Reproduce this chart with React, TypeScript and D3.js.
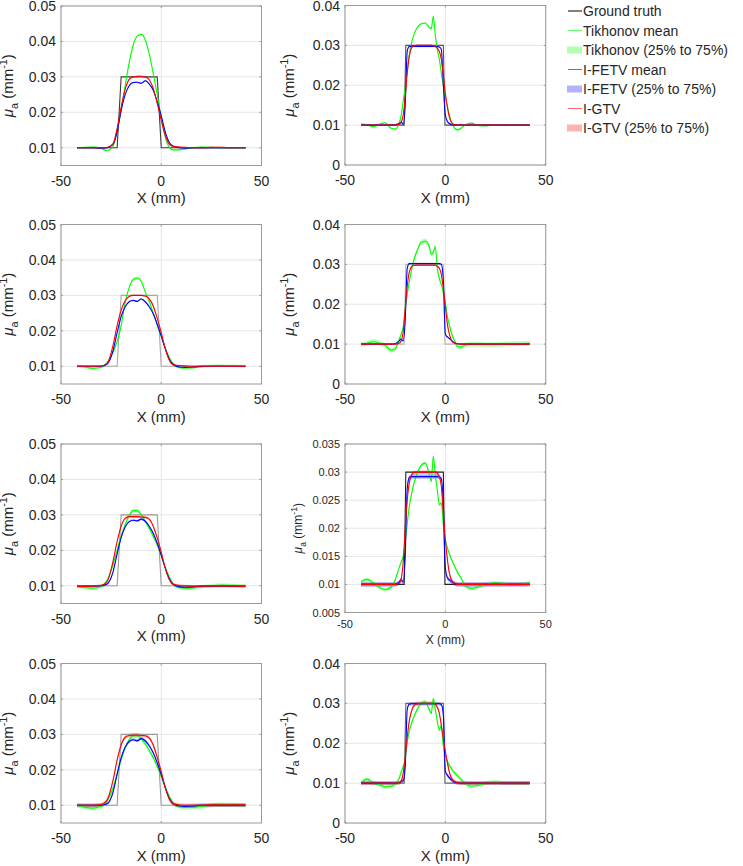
import React from "react";
import * as d3 from "d3";

// ---------- sample positions (mm) ----------
const X_L = [-42, -38, -34, -30, -27, -24, -22, -20, -18, -16, -14, -12, -10, -8, -6, -4, -2, 0, 2, 4, 6, 9, 12, 16, 20, 25, 30, 36, 42];
const X_R = [-42, -39, -36, -33, -30, -27, -25, -23, -22, -21, -20, -19, -18, -17, -16, -14, -12, -10, -8, -7, -6, -5, -4, -3, -2, -1, 0, 1, 2, 3, 4, 6, 8, 10, 13, 16, 20, 25, 30, 35, 42];

// ---------- ground truth ----------
const GT_L_X = [-42, -22, -20, -2, 0, 42];
const GT_R_X = [-42, -20.5, -19.7, -1.0, -0.2, 42];
const GT_Y = [0.01, 0.01, 0.03, 0.03, 0.01, 0.01];

// ---------- left column ----------
const TIK_L1 = [0.0100, 0.0101, 0.0102, 0.0098, 0.0092, 0.0105, 0.0150, 0.0205, 0.0275, 0.0340, 0.0390, 0.0415, 0.0420, 0.0405, 0.0365, 0.0310, 0.0250, 0.0185, 0.0130, 0.0102, 0.0094, 0.0094, 0.0097, 0.0100, 0.0102, 0.0101, 0.0100, 0.0100, 0.0100];
const GTV_L1 = [0.0100, 0.0100, 0.0100, 0.0100, 0.0101, 0.0112, 0.0155, 0.0215, 0.0265, 0.0293, 0.0300, 0.0302, 0.0302, 0.0300, 0.0292, 0.0268, 0.0225, 0.0178, 0.0135, 0.0110, 0.0104, 0.0102, 0.0101, 0.0100, 0.0100, 0.0101, 0.0101, 0.0100, 0.0100];
const FETV_L1 = [0.0100, 0.0100, 0.0100, 0.0099, 0.0100, 0.0110, 0.0145, 0.0205, 0.0250, 0.0275, 0.0284, 0.0285, 0.0282, 0.0289, 0.0280, 0.0262, 0.0230, 0.0190, 0.0145, 0.0115, 0.0104, 0.0100, 0.0099, 0.0100, 0.0100, 0.0100, 0.0100, 0.0100, 0.0100];

const TIK_L2 = [0.0100, 0.0098, 0.0094, 0.0097, 0.0110, 0.0140, 0.0170, 0.0215, 0.0280, 0.0322, 0.0345, 0.0349, 0.0340, 0.0310, 0.0283, 0.0250, 0.0218, 0.0185, 0.0152, 0.0125, 0.0107, 0.0097, 0.0095, 0.0096, 0.0099, 0.0101, 0.0102, 0.0101, 0.0100];
const GTV_L2 = [0.0100, 0.0100, 0.0100, 0.0101, 0.0108, 0.0160, 0.0215, 0.0258, 0.0285, 0.0297, 0.0300, 0.0300, 0.0300, 0.0298, 0.0290, 0.0270, 0.0235, 0.0195, 0.0150, 0.0118, 0.0104, 0.0102, 0.0101, 0.0100, 0.0100, 0.0100, 0.0100, 0.0100, 0.0100];
const FETV_L2 = [0.0100, 0.0100, 0.0100, 0.0100, 0.0106, 0.0145, 0.0195, 0.0240, 0.0268, 0.0282, 0.0286, 0.0283, 0.0290, 0.0282, 0.0268, 0.0248, 0.0218, 0.0185, 0.0150, 0.0120, 0.0105, 0.0098, 0.0097, 0.0098, 0.0100, 0.0100, 0.0100, 0.0100, 0.0100];

const TIK_L3 = [0.0098, 0.0095, 0.0093, 0.0098, 0.0115, 0.0160, 0.0200, 0.0240, 0.0272, 0.0298, 0.0312, 0.0312, 0.0300, 0.0283, 0.0262, 0.0240, 0.0215, 0.0185, 0.0152, 0.0125, 0.0105, 0.0095, 0.0093, 0.0094, 0.0097, 0.0100, 0.0102, 0.0101, 0.0100];
const GTV_L3 = [0.0098, 0.0098, 0.0099, 0.0101, 0.0112, 0.0170, 0.0225, 0.0268, 0.0290, 0.0295, 0.0295, 0.0295, 0.0294, 0.0293, 0.0288, 0.0268, 0.0235, 0.0195, 0.0150, 0.0118, 0.0104, 0.0101, 0.0100, 0.0099, 0.0099, 0.0099, 0.0099, 0.0099, 0.0098];
const FETV_L3 = [0.0099, 0.0099, 0.0099, 0.0100, 0.0105, 0.0140, 0.0190, 0.0236, 0.0266, 0.0281, 0.0285, 0.0283, 0.0288, 0.0282, 0.0268, 0.0248, 0.0220, 0.0186, 0.0150, 0.0120, 0.0104, 0.0097, 0.0096, 0.0097, 0.0099, 0.0099, 0.0099, 0.0099, 0.0099];

const TIK_L4 = [0.0100, 0.0094, 0.0092, 0.0097, 0.0112, 0.0150, 0.0188, 0.0228, 0.0262, 0.0285, 0.0296, 0.0296, 0.0288, 0.0273, 0.0255, 0.0234, 0.0210, 0.0182, 0.0152, 0.0125, 0.0106, 0.0096, 0.0094, 0.0094, 0.0097, 0.0100, 0.0102, 0.0101, 0.0100];
const GTV_L4 = [0.0100, 0.0100, 0.0100, 0.0102, 0.0115, 0.0172, 0.0228, 0.0270, 0.0292, 0.0297, 0.0298, 0.0298, 0.0297, 0.0296, 0.0290, 0.0270, 0.0235, 0.0195, 0.0150, 0.0118, 0.0104, 0.0101, 0.0100, 0.0100, 0.0100, 0.0101, 0.0101, 0.0101, 0.0101];
const FETV_L4 = [0.0100, 0.0100, 0.0100, 0.0100, 0.0104, 0.0138, 0.0188, 0.0234, 0.0264, 0.0280, 0.0285, 0.0282, 0.0288, 0.0282, 0.0268, 0.0248, 0.0220, 0.0186, 0.0150, 0.0120, 0.0104, 0.0098, 0.0097, 0.0098, 0.0100, 0.0100, 0.0100, 0.0100, 0.0100];

// ---------- right column ----------
const TIK_R1 = [
  0.0103, 0.0101, 0.0096, 0.0102, 0.0106, 0.0092, 0.0090, 0.0105, 0.0125, 0.0160,
  0.0195, 0.0235, 0.0275, 0.0303, 0.0322, 0.0345, 0.0354, 0.0356, 0.0345, 0.0342,
  0.0373, 0.0325, 0.0290, 0.0265, 0.0230, 0.0200, 0.0170, 0.0148, 0.0125, 0.0108,
  0.0097, 0.0088, 0.0093, 0.0101, 0.0105, 0.0099, 0.0098, 0.0101, 0.0099, 0.0101,
  0.0100];
const FETV_R1 = [
  0.0100, 0.0100, 0.0100, 0.0100, 0.0100, 0.0100, 0.0101, 0.0104, 0.0108, 0.0102,
  0.0150, 0.0285, 0.0297, 0.0298, 0.0298, 0.0297, 0.0297, 0.0297, 0.0297, 0.0297,
  0.0297, 0.0297, 0.0297, 0.0296, 0.0290, 0.0200, 0.0125, 0.0110, 0.0104, 0.0101,
  0.0100, 0.0100, 0.0100, 0.0100, 0.0100, 0.0100, 0.0100, 0.0100, 0.0100, 0.0100,
  0.0100];
const GTV_R1 = [
  0.0100, 0.0100, 0.0100, 0.0100, 0.0100, 0.0100, 0.0100, 0.0102, 0.0108, 0.0125,
  0.0170, 0.0230, 0.0272, 0.0292, 0.0298, 0.0300, 0.0300, 0.0300, 0.0300, 0.0300,
  0.0299, 0.0297, 0.0293, 0.0285, 0.0265, 0.0225, 0.0180, 0.0145, 0.0120, 0.0107,
  0.0102, 0.0100, 0.0100, 0.0100, 0.0100, 0.0100, 0.0100, 0.0100, 0.0100, 0.0100,
  0.0100];

const TIK_R2 = [
  0.0099, 0.0102, 0.0106, 0.0103, 0.0097, 0.0085, 0.0088, 0.0112, 0.0125, 0.0143,
  0.0185, 0.0225, 0.0255, 0.0282, 0.0305, 0.0335, 0.0355, 0.0358, 0.0345, 0.0325,
  0.0330, 0.0345, 0.0290, 0.0265, 0.0250, 0.0228, 0.0205, 0.0170, 0.0148, 0.0128,
  0.0115, 0.0094, 0.0093, 0.0098, 0.0100, 0.0100, 0.0099, 0.0099, 0.0100, 0.0101,
  0.0102];
const FETV_R2 = [
  0.0100, 0.0100, 0.0100, 0.0100, 0.0100, 0.0100, 0.0101, 0.0108, 0.0113, 0.0108,
  0.0160, 0.0290, 0.0302, 0.0302, 0.0302, 0.0302, 0.0302, 0.0302, 0.0302, 0.0302,
  0.0302, 0.0302, 0.0302, 0.0302, 0.0300, 0.0260, 0.0125, 0.0118, 0.0114, 0.0110,
  0.0105, 0.0101, 0.0100, 0.0100, 0.0100, 0.0100, 0.0100, 0.0100, 0.0100, 0.0100,
  0.0100];
const GTV_R2 = [
  0.0100, 0.0100, 0.0100, 0.0100, 0.0100, 0.0100, 0.0100, 0.0102, 0.0108, 0.0130,
  0.0190, 0.0245, 0.0280, 0.0293, 0.0297, 0.0298, 0.0298, 0.0298, 0.0298, 0.0298,
  0.0298, 0.0298, 0.0295, 0.0290, 0.0275, 0.0240, 0.0195, 0.0150, 0.0125, 0.0110,
  0.0104, 0.0101, 0.0100, 0.0100, 0.0100, 0.0100, 0.0100, 0.0100, 0.0100, 0.0100,
  0.0100];

const TIK_R3 = [
  0.0105, 0.0109, 0.0103, 0.0095, 0.0091, 0.0095, 0.0108, 0.0130, 0.0140, 0.0150,
  0.0175, 0.0208, 0.0238, 0.0258, 0.0275, 0.0298, 0.0312, 0.0316, 0.0296, 0.0283,
  0.0328, 0.0295, 0.0268, 0.0242, 0.0245, 0.0205, 0.0180, 0.0165, 0.0155, 0.0145,
  0.0137, 0.0122, 0.0110, 0.0097, 0.0093, 0.0095, 0.0100, 0.0103, 0.0101, 0.0100,
  0.0103];
const FETV_R3 = [
  0.0100, 0.0100, 0.0100, 0.0100, 0.0100, 0.0100, 0.0100, 0.0104, 0.0108, 0.0104,
  0.0150, 0.0270, 0.0290, 0.0292, 0.0292, 0.0292, 0.0292, 0.0292, 0.0292, 0.0292,
  0.0292, 0.0292, 0.0292, 0.0291, 0.0288, 0.0240, 0.0130, 0.0112, 0.0108, 0.0105,
  0.0103, 0.0100, 0.0100, 0.0100, 0.0100, 0.0100, 0.0100, 0.0100, 0.0100, 0.0100,
  0.0100];
const GTV_R3 = [
  0.0100, 0.0100, 0.0100, 0.0100, 0.0100, 0.0100, 0.0100, 0.0102, 0.0110, 0.0140,
  0.0200, 0.0250, 0.0280, 0.0293, 0.0299, 0.0300, 0.0300, 0.0300, 0.0300, 0.0300,
  0.0300, 0.0300, 0.0298, 0.0292, 0.0275, 0.0225, 0.0180, 0.0145, 0.0120, 0.0108,
  0.0103, 0.0100, 0.0100, 0.0100, 0.0100, 0.0100, 0.0100, 0.0100, 0.0100, 0.0100,
  0.0100];

const TIK_R4 = [
  0.0100, 0.0110, 0.0101, 0.0096, 0.0091, 0.0092, 0.0098, 0.0112, 0.0128, 0.0142,
  0.0160, 0.0202, 0.0230, 0.0248, 0.0262, 0.0285, 0.0300, 0.0304, 0.0284, 0.0275,
  0.0312, 0.0285, 0.0255, 0.0233, 0.0245, 0.0192, 0.0170, 0.0155, 0.0145, 0.0137,
  0.0129, 0.0119, 0.0108, 0.0099, 0.0092, 0.0094, 0.0100, 0.0102, 0.0100, 0.0100,
  0.0100];
const FETV_R4 = [
  0.0100, 0.0100, 0.0100, 0.0100, 0.0100, 0.0100, 0.0100, 0.0101, 0.0104, 0.0106,
  0.0140, 0.0285, 0.0298, 0.0299, 0.0299, 0.0299, 0.0299, 0.0299, 0.0299, 0.0299,
  0.0299, 0.0299, 0.0299, 0.0299, 0.0297, 0.0270, 0.0130, 0.0120, 0.0113, 0.0108,
  0.0104, 0.0101, 0.0100, 0.0100, 0.0100, 0.0100, 0.0100, 0.0100, 0.0100, 0.0100,
  0.0100];
const GTV_R4 = [
  0.0100, 0.0100, 0.0100, 0.0100, 0.0100, 0.0100, 0.0100, 0.0101, 0.0105, 0.0125,
  0.0165, 0.0215, 0.0255, 0.0278, 0.0292, 0.0299, 0.0300, 0.0300, 0.0300, 0.0300,
  0.0300, 0.0298, 0.0290, 0.0275, 0.0245, 0.0210, 0.0180, 0.0152, 0.0128, 0.0113,
  0.0106, 0.0101, 0.0100, 0.0100, 0.0100, 0.0100, 0.0100, 0.0100, 0.0100, 0.0100,
  0.0100];

// half-width of the 25%–75% bands, per panel [Tikhonov, I-FETV, I-GTV]
const BAND_L1 = [0.0002, 0.0002, 0.0002];
const BAND_L2 = [0.0004, 0.0002, 0.0002];
const BAND_L3 = [0.0005, 0.0003, 0.0003];
const BAND_L4 = [0.0006, 0.0004, 0.0005];
const BAND_R1 = [0.0002, 0.0002, 0.0002];
const BAND_R2 = [0.0006, 0.0002, 0.0002];
const BAND_R3 = [0.0003, 0.0004, 0.0003];
const BAND_R4 = [0.0005, 0.0004, 0.0005];

// ---------- ticks ----------
const X_TICKS = [-50, 0, 50];
const X_TICK_LABELS = ["-50", "0", "50"];
const Y_TICKS_L = [0.01, 0.02, 0.03, 0.04, 0.05];
const Y_TICK_LABELS_L = ["0.01", "0.02", "0.03", "0.04", "0.05"];
const Y_TICKS_R = [0, 0.01, 0.02, 0.03, 0.04];
const Y_TICK_LABELS_R = ["0", "0.01", "0.02", "0.03", "0.04"];
const Y_TICKS_R3 = [0.005, 0.01, 0.015, 0.02, 0.025, 0.03, 0.035];
const Y_TICK_LABELS_R3 = ["0.005", "0.01", "0.015", "0.02", "0.025", "0.03", "0.035"];

const LEGEND_LABELS = ["Ground truth", "Tikhonov mean", "Tikhonov (25% to 75%)", "I-FETV mean", "I-FETV (25% to 75%)", "I-GTV", "I-GTV (25% to 75%)"];

const GREEN = "#00ff00";
const BLUE = "#0000ff";
const RED = "#ff0000";
const FONT = "'Liberation Sans', Arial, Helvetica, sans-serif";

const LEFT = { x0: 61, w: 200.5 };
const RIGHT = { x0: 345, w: 200.7 };
const ROW_TOPS = [6, 224.5, 444, 663.5];
const H = 159.5;

type PanelDef = {
  x0: number; w: number; top: number; h: number;
  xs: number[]; gtX: number[]; gtColor: string;
  tik: number[]; fetv: number[]; gtv: number[]; band: number[];
  yDomain: [number, number]; yTicks: number[]; yLabels: string[];
  tickFs: number; labelFs: number; xTickDy: number; xLabelDy: number; yLabelX: number;
};

const std = { tickFs: 14, labelFs: 15, xTickDy: 15, xLabelDy: 32 };

const PANELS: PanelDef[] = [
  { ...LEFT, top: ROW_TOPS[0], h: H, xs: X_L, gtX: GT_L_X, gtColor: "#3a3a3a", tik: TIK_L1, fetv: FETV_L1, gtv: GTV_L1, band: BAND_L1, yDomain: [0.005, 0.05], yTicks: Y_TICKS_L, yLabels: Y_TICK_LABELS_L, ...std, yLabelX: 13 },
  { ...RIGHT, top: ROW_TOPS[0] - 0.5, h: H, xs: X_R, gtX: GT_R_X, gtColor: "#555555", tik: TIK_R1, fetv: FETV_R1, gtv: GTV_R1, band: BAND_R1, yDomain: [0, 0.04], yTicks: Y_TICKS_R, yLabels: Y_TICK_LABELS_R, ...std, yLabelX: 294 },
  { ...LEFT, top: ROW_TOPS[1], h: H, xs: X_L, gtX: GT_L_X, gtColor: "#a8a8a8", tik: TIK_L2, fetv: FETV_L2, gtv: GTV_L2, band: BAND_L2, yDomain: [0.005, 0.05], yTicks: Y_TICKS_L, yLabels: Y_TICK_LABELS_L, ...std, yLabelX: 13 },
  { ...RIGHT, top: ROW_TOPS[1], h: H, xs: X_R, gtX: GT_R_X, gtColor: "#b8b8b8", tik: TIK_R2, fetv: FETV_R2, gtv: GTV_R2, band: BAND_R2, yDomain: [0, 0.04], yTicks: Y_TICKS_R, yLabels: Y_TICK_LABELS_R, ...std, yLabelX: 294 },
  { ...LEFT, top: ROW_TOPS[2], h: H, xs: X_L, gtX: GT_L_X, gtColor: "#9a9a9a", tik: TIK_L3, fetv: FETV_L3, gtv: GTV_L3, band: BAND_L3, yDomain: [0.005, 0.05], yTicks: Y_TICKS_L, yLabels: Y_TICK_LABELS_L, ...std, yLabelX: 13 },
  { ...RIGHT, top: ROW_TOPS[2], h: 168.5, xs: X_R, gtX: GT_R_X, gtColor: "#222222", tik: TIK_R3, fetv: FETV_R3, gtv: GTV_R3, band: BAND_R3, yDomain: [0.005, 0.035], yTicks: Y_TICKS_R3, yLabels: Y_TICK_LABELS_R3, tickFs: 11, labelFs: 12, xTickDy: 11.5, xLabelDy: 27.5, yLabelX: 302 },
  { ...LEFT, top: ROW_TOPS[3], h: H, xs: X_L, gtX: GT_L_X, gtColor: "#9a9a9a", tik: TIK_L4, fetv: FETV_L4, gtv: GTV_L4, band: BAND_L4, yDomain: [0.005, 0.05], yTicks: Y_TICKS_L, yLabels: Y_TICK_LABELS_L, ...std, yLabelX: 13 },
  { ...RIGHT, top: ROW_TOPS[3], h: H, xs: X_R, gtX: GT_R_X, gtColor: "#666666", tik: TIK_R4, fetv: FETV_R4, gtv: GTV_R4, band: BAND_R4, yDomain: [0, 0.04], yTicks: Y_TICKS_R, yLabels: Y_TICK_LABELS_R, ...std, yLabelX: 294 },
];

function YLabel({ x, y, fs }: { x: number; y: number; fs: number }) {
  const s = fs * 0.72;
  return (
    <text transform={`translate(${x},${y}) rotate(-90)`} textAnchor="middle" fontSize={fs} fill="#262626" fontFamily={FONT}>
      <tspan fontStyle="italic">μ</tspan>
      <tspan dy={fs * 0.3} fontSize={s}>a</tspan>
      <tspan dy={-fs * 0.3}> (mm</tspan>
      <tspan dy={-fs * 0.42} fontSize={s}>-1</tspan>
      <tspan dy={fs * 0.42}>)</tspan>
    </text>
  );
}

function Panel({ p, id }: { p: PanelDef; id: number }) {
  const x = d3.scaleLinear().domain([-50, 50]).range([p.x0, p.x0 + p.w]);
  const y = d3.scaleLinear().domain(p.yDomain).range([p.top + p.h, p.top]);
  const bottom = p.top + p.h;
  const right = p.x0 + p.w;
  const curve = d3.curveMonotoneX;
  const line = d3.line<number>().x((_, i) => x(p.xs[i])).y((v) => y(v)).curve(curve);
  const area = (hw: number) =>
    d3.area<number>().x((_, i) => x(p.xs[i])).y0((v) => y(v - hw)).y1((v) => y(v + hw)).curve(curve);
  const gtLine = d3.line<number>().x((_, i) => x(p.gtX[i])).y((v) => y(v));
  const clipId = `clip${id}`;
  return (
    <g>
      <defs>
        <clipPath id={clipId}>
          <rect x={p.x0} y={p.top} width={p.w} height={p.h} />
        </clipPath>
      </defs>
      <rect x={p.x0} y={p.top} width={p.w} height={p.h} fill="#ffffff" />
      {p.yTicks.map((t) => (
        <line key={"gy" + t} x1={p.x0} x2={right} y1={y(t)} y2={y(t)} stroke="#e6e6e6" strokeWidth={1} />
      ))}
      {X_TICKS.map((t) => (
        <line key={"gx" + t} x1={x(t)} x2={x(t)} y1={p.top} y2={bottom} stroke="#e6e6e6" strokeWidth={1} />
      ))}
      <g clipPath={`url(#${clipId})`}>
        <path d={area(p.band[0])(p.tik) || ""} fill={GREEN} fillOpacity={0.3} />
        <path d={area(p.band[1])(p.fetv) || ""} fill={BLUE} fillOpacity={0.3} />
        <path d={area(p.band[2])(p.gtv) || ""} fill={RED} fillOpacity={0.3} />
        <path d={gtLine(GT_Y) || ""} fill="none" stroke={p.gtColor} strokeWidth={1.1} />
        <path d={line(p.tik) || ""} fill="none" stroke={GREEN} strokeWidth={1.1} />
        <path d={line(p.fetv) || ""} fill="none" stroke={BLUE} strokeWidth={1.1} />
        <path d={line(p.gtv) || ""} fill="none" stroke={RED} strokeWidth={1.1} />
      </g>
      {p.yTicks.map((t) => (
        <g key={"ty" + t}>
          <line x1={p.x0} x2={p.x0 + 2} y1={y(t)} y2={y(t)} stroke="#9a9a9a" />
          <line x1={right} x2={right - 2} y1={y(t)} y2={y(t)} stroke="#9a9a9a" />
        </g>
      ))}
      {X_TICKS.map((t) => (
        <g key={"tx" + t}>
          <line x1={x(t)} x2={x(t)} y1={bottom} y2={bottom - 2} stroke="#9a9a9a" />
          <line x1={x(t)} x2={x(t)} y1={p.top} y2={p.top + 2} stroke="#9a9a9a" />
        </g>
      ))}
      <rect x={p.x0} y={p.top} width={p.w} height={p.h} fill="none" stroke="#9a9a9a" strokeWidth={1} />
      {p.yTicks.map((t, i) => (
        <text key={"ly" + t} x={p.x0 - 5} y={y(t)} textAnchor="end" dominantBaseline="central" fontSize={p.tickFs} fill="#262626" fontFamily={FONT}>
          {p.yLabels[i]}
        </text>
      ))}
      {X_TICKS.map((t, i) => (
        <text key={"lx" + t} x={x(t)} y={bottom + p.xTickDy} textAnchor="middle" dominantBaseline="central" fontSize={p.tickFs} fill="#262626" fontFamily={FONT}>
          {X_TICK_LABELS[i]}
        </text>
      ))}
      <text x={x(0)} y={bottom + p.xLabelDy} textAnchor="middle" dominantBaseline="central" fontSize={p.labelFs} fill="#262626" fontFamily={FONT}>
        X (mm)
      </text>
      <YLabel x={p.yLabelX} y={p.top + p.h / 2} fs={p.labelFs} />
    </g>
  );
}

function Legend() {
  const lx0 = 568;
  const lx1 = 582;
  const ty = (i: number) => 11 + i * 19.5;
  const kinds = [
    { type: "line", color: "#000000" },
    { type: "line", color: GREEN },
    { type: "patch", color: GREEN },
    { type: "line", color: BLUE },
    { type: "patch", color: BLUE },
    { type: "line", color: RED },
    { type: "patch", color: RED },
  ];
  return (
    <g>
      {LEGEND_LABELS.map((lab, i) => (
        <g key={lab}>
          {kinds[i].type === "line" ? (
            <line x1={lx0} x2={lx1} y1={ty(i)} y2={ty(i)} stroke={kinds[i].color} strokeOpacity={i === 0 ? 1 : 0.6} strokeWidth={1} />
          ) : (
            <rect x={lx0 - 1} y={ty(i) - 3.5} width={lx1 - lx0 + 1} height={7} fill={kinds[i].color} fillOpacity={0.3} />
          )}
          <text x={lx1 + 1} y={ty(i)} dominantBaseline="central" fontSize={14} fill="#262626" fontFamily={FONT}>
            {lab}
          </text>
        </g>
      ))}
    </g>
  );
}

export default function App() {
  return (
    <svg width={743} height={866} style={{ position: "absolute", left: 0, top: 0, background: "#ffffff" }} xmlns="http://www.w3.org/2000/svg">
      <rect x={0} y={0} width={743} height={866} fill="#ffffff" />
      {PANELS.map((p, i) => (
        <Panel key={i} p={p} id={i} />
      ))}
      <Legend />
    </svg>
  );
}
